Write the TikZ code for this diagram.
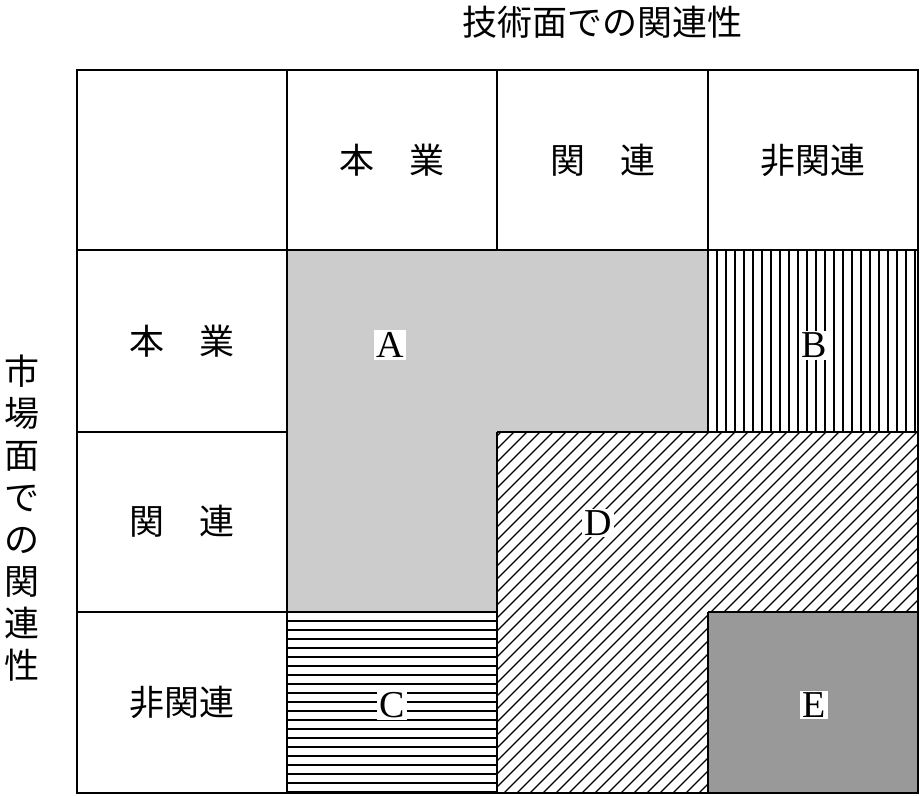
\documentclass[tikz,border=0pt]{standalone}
\usepackage{fontspec}
\setmainfont{Liberation Serif}
\newfontfamily\cjk{Noto Sans CJK JP}
\begin{document}
\begin{tikzpicture}[x=1pt,y=-1pt,
  jp/.style={font=\cjk\fontsize{35}{42}\selectfont},
  lab/.style={fill=white,inner sep=2pt,font=\fontsize{38}{38}\selectfont},
  hatch/.style={line width=1.1pt}]
\useasboundingbox (0,0) rectangle (920,795);
% A
\fill[gray!40] (287,250) -- (708,250) -- (708,432) -- (497,432) -- (497,612) -- (287,612) -- cycle;
% E
\fill[gray!80] (708,612) rectangle (918,793);
% B vertical lines
\begin{scope}
\clip (708,250) rectangle (918,432);
\foreach \x in {717,726,...,918} \draw[hatch] (\x,250) -- (\x,432);
\end{scope}
% C horizontal lines
\begin{scope}
\clip (287,612) rectangle (497,793);
\foreach \y in {621,630,...,793} \draw[hatch] (287,\y) -- (497,\y);
\end{scope}
% D diagonal
\begin{scope}
\clip (497,432) -- (918,432) -- (918,612) -- (708,612) -- (708,793) -- (497,793) -- cycle;
\foreach \k in {0,13,...,800} \draw[hatch] (497+\k-370,793) -- (497+\k,432-9);
\end{scope}
% grid
\draw[line width=1.2pt] (287,70) -- (287,793) (497,70) -- (497,250) (708,70) -- (708,250)
  (497,432) -- (497,793) (708,250) -- (708,432) (708,612) -- (708,793)
  (77,250) -- (918,250) (77,432) -- (287,432) (497,432) -- (918,432)
  (77,612) -- (497,612) (708,612) -- (918,612);
\draw[line width=2.5pt] (77,70) rectangle (918,793);
% headers
\node[jp] (t1) at (392,160) {本\hspace{1em}業};
\node[jp] (t2) at (603,160) {関\hspace{1em}連};
\node[jp] (t3) at (813,160) {非関連};
\node[jp] (r1) at (182,341) {本\hspace{1em}業};
\node[jp] (r2) at (182,521) {関\hspace{1em}連};
\node[jp] (r3) at (182,702) {非関連};
\node[jp] (top) at (602,22) {技術面での関連性};
\node[jp,align=center,font=\cjk\fontsize{35}{42}\selectfont] (left) at (22,518) {市\\場\\面\\で\\の\\関\\連\\性};
% labels
\node[lab] (A) at (390,345) {A};
\node[lab] (B) at (814,345) {B};
\node[lab] (C) at (392,705) {C};
\node[lab] (D) at (598,523) {D};
\node[lab] (E) at (814,705) {E};
\end{tikzpicture}
\end{document}
